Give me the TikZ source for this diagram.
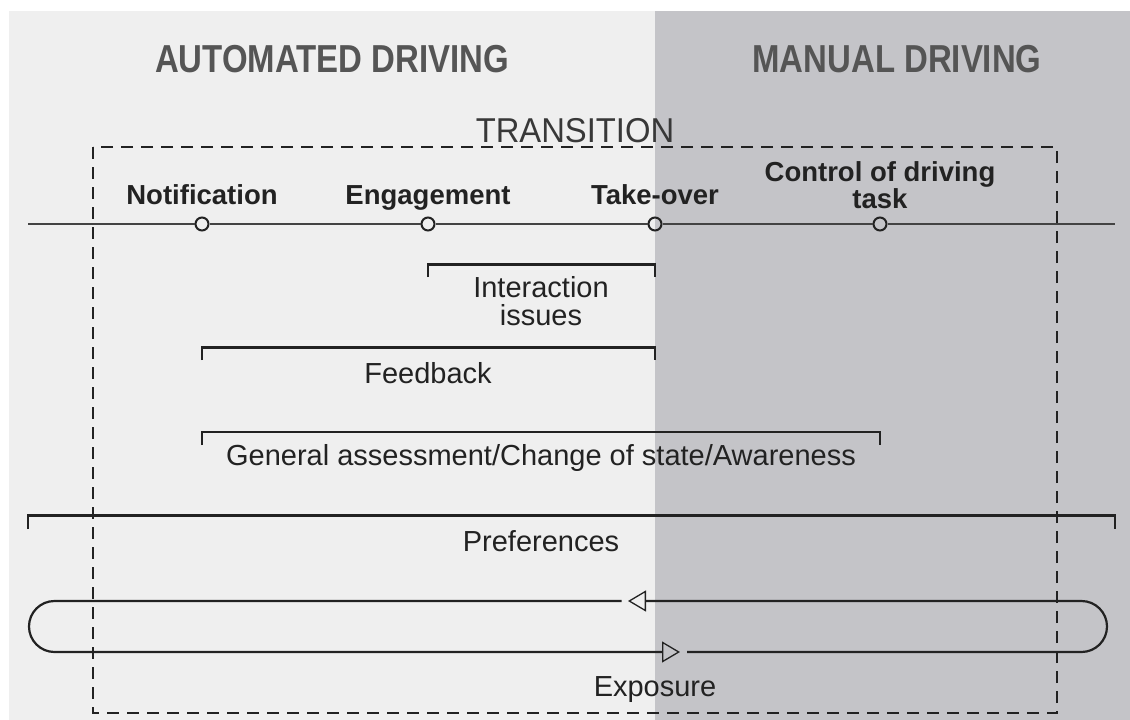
\documentclass[tikz,border=0pt]{standalone}
\usepackage{fontspec}
\setmainfont{Liberation Sans}
\newfontfamily\headfont[FakeStretch=0.845]{Liberation Sans}
\newfontfamily\transfont[FakeStretch=0.95]{Liberation Sans}
\usetikzlibrary{arrows.meta,calc}
\definecolor{bglight}{HTML}{EFEFEF}
\definecolor{bgdark}{HTML}{C4C4C8}
\definecolor{headgray}{HTML}{555555}
\definecolor{ink}{HTML}{222222}
\tikzset{
  heading/.style={font=\headfont\bfseries\fontsize{39}{39}\selectfont, text=headgray, anchor=base, inner sep=0},
  stage/.style={font=\bfseries\fontsize{27.5}{27.5}\selectfont, text=ink, anchor=base, inner sep=0, align=center},
  lbl/.style={font=\fontsize{29}{29}\selectfont, text=ink, anchor=base, inner sep=0, align=center},
  dot/.style={circle, draw=ink, line width=2pt, inner sep=0, minimum size=13pt},
  mainline/.style={draw=ink!85, line width=1.4pt},
  bracketline/.style={draw=ink, line width=2.4pt},
  loopline/.style={draw=ink, line width=2.2pt},
  openarrow/.style={-{Triangle[open, length=18pt, width=21pt, line width=1.3pt]}},
  dashbox/.style={draw=ink, line width=1.3pt, dash pattern=on 12pt off 8pt},
}
\begin{document}
\begin{tikzpicture}[x=1pt,y=-1pt]
\useasboundingbox (0,0) rectangle (1130,720);
\fill[white] (0,0) rectangle (1130,720);
\fill[bglight] (9,11) rectangle (655,720);
\fill[bgdark] (655,11) rectangle (1130,720);

% headings
\node[heading] (auto) at (332,72) {AUTOMATED DRIVING};
\node[heading] (manual) at (897,72) {MANUAL DRIVING};

% transition box
\draw[dashbox] (93,147) rectangle (1057,713);
\node[font=\transfont\fontsize{34.5}{34.5}\selectfont, text=ink!90, anchor=base, inner sep=0] (trans) at (575,142) {TRANSITION};

% timeline
\coordinate (ls) at (28,224);
\coordinate (le) at (1115,224);
\node[dot] (n1) at (202,224) {};
\node[dot] (n2) at (428,224) {};
\node[dot] (n3) at (655,224) {};
\node[dot] (n4) at (880,224) {};
\draw[mainline] (ls) -- (n1) -- (n2) -- (n3) -- (n4) -- (le);

\node[stage] (t1) at (202,204) {Notification};
\node[stage] (t2) at (428,204) {Engagement};
\node[stage] (t3) at (655,204) {Take-over};
\node[stage] (t4a) at (880,181) {Control of driving};
\node[stage] (t4b) at (880,208) {task};

% brackets
\draw[bracketline] (428,277) -- (428,264.5) -- (655,264.5) -- (655,277);
\node[lbl] (ia) at (541,297) {Interaction};
\node[lbl] (ib) at (541,325) {issues};

\draw[bracketline] (202,360) -- (202,347.5) -- (655,347.5) -- (655,360);
\node[lbl] (fb) at (428,383) {Feedback};

\draw[bracketline] (202,445) -- (202,432) -- (880,432) -- (880,445);
\node[lbl] (gen) at (541,465) {General assessment/Change of state/Awareness};

\draw[bracketline] (28,529) -- (28,515.5) -- (1115,515.5) -- (1115,529);
\node[lbl] (pref) at (541,551.5) {Preferences};

% exposure loop
\coordinate (ta) at (628,601);
\coordinate (tb) at (621.5,601);
\coordinate (ba) at (680,652);
\coordinate (bb) at (687,652);
\draw[loopline, openarrow] (bb) -- (1081.5,652) arc[start angle=-90, end angle=90, radius=25.5pt] -- (ta);
\draw[loopline, openarrow] (tb) -- (54.5,601) arc[start angle=90, end angle=270, radius=25.5pt] -- (ba);
\node[lbl] (exp) at (655,696) {Exposure};
\end{tikzpicture}
\end{document}
